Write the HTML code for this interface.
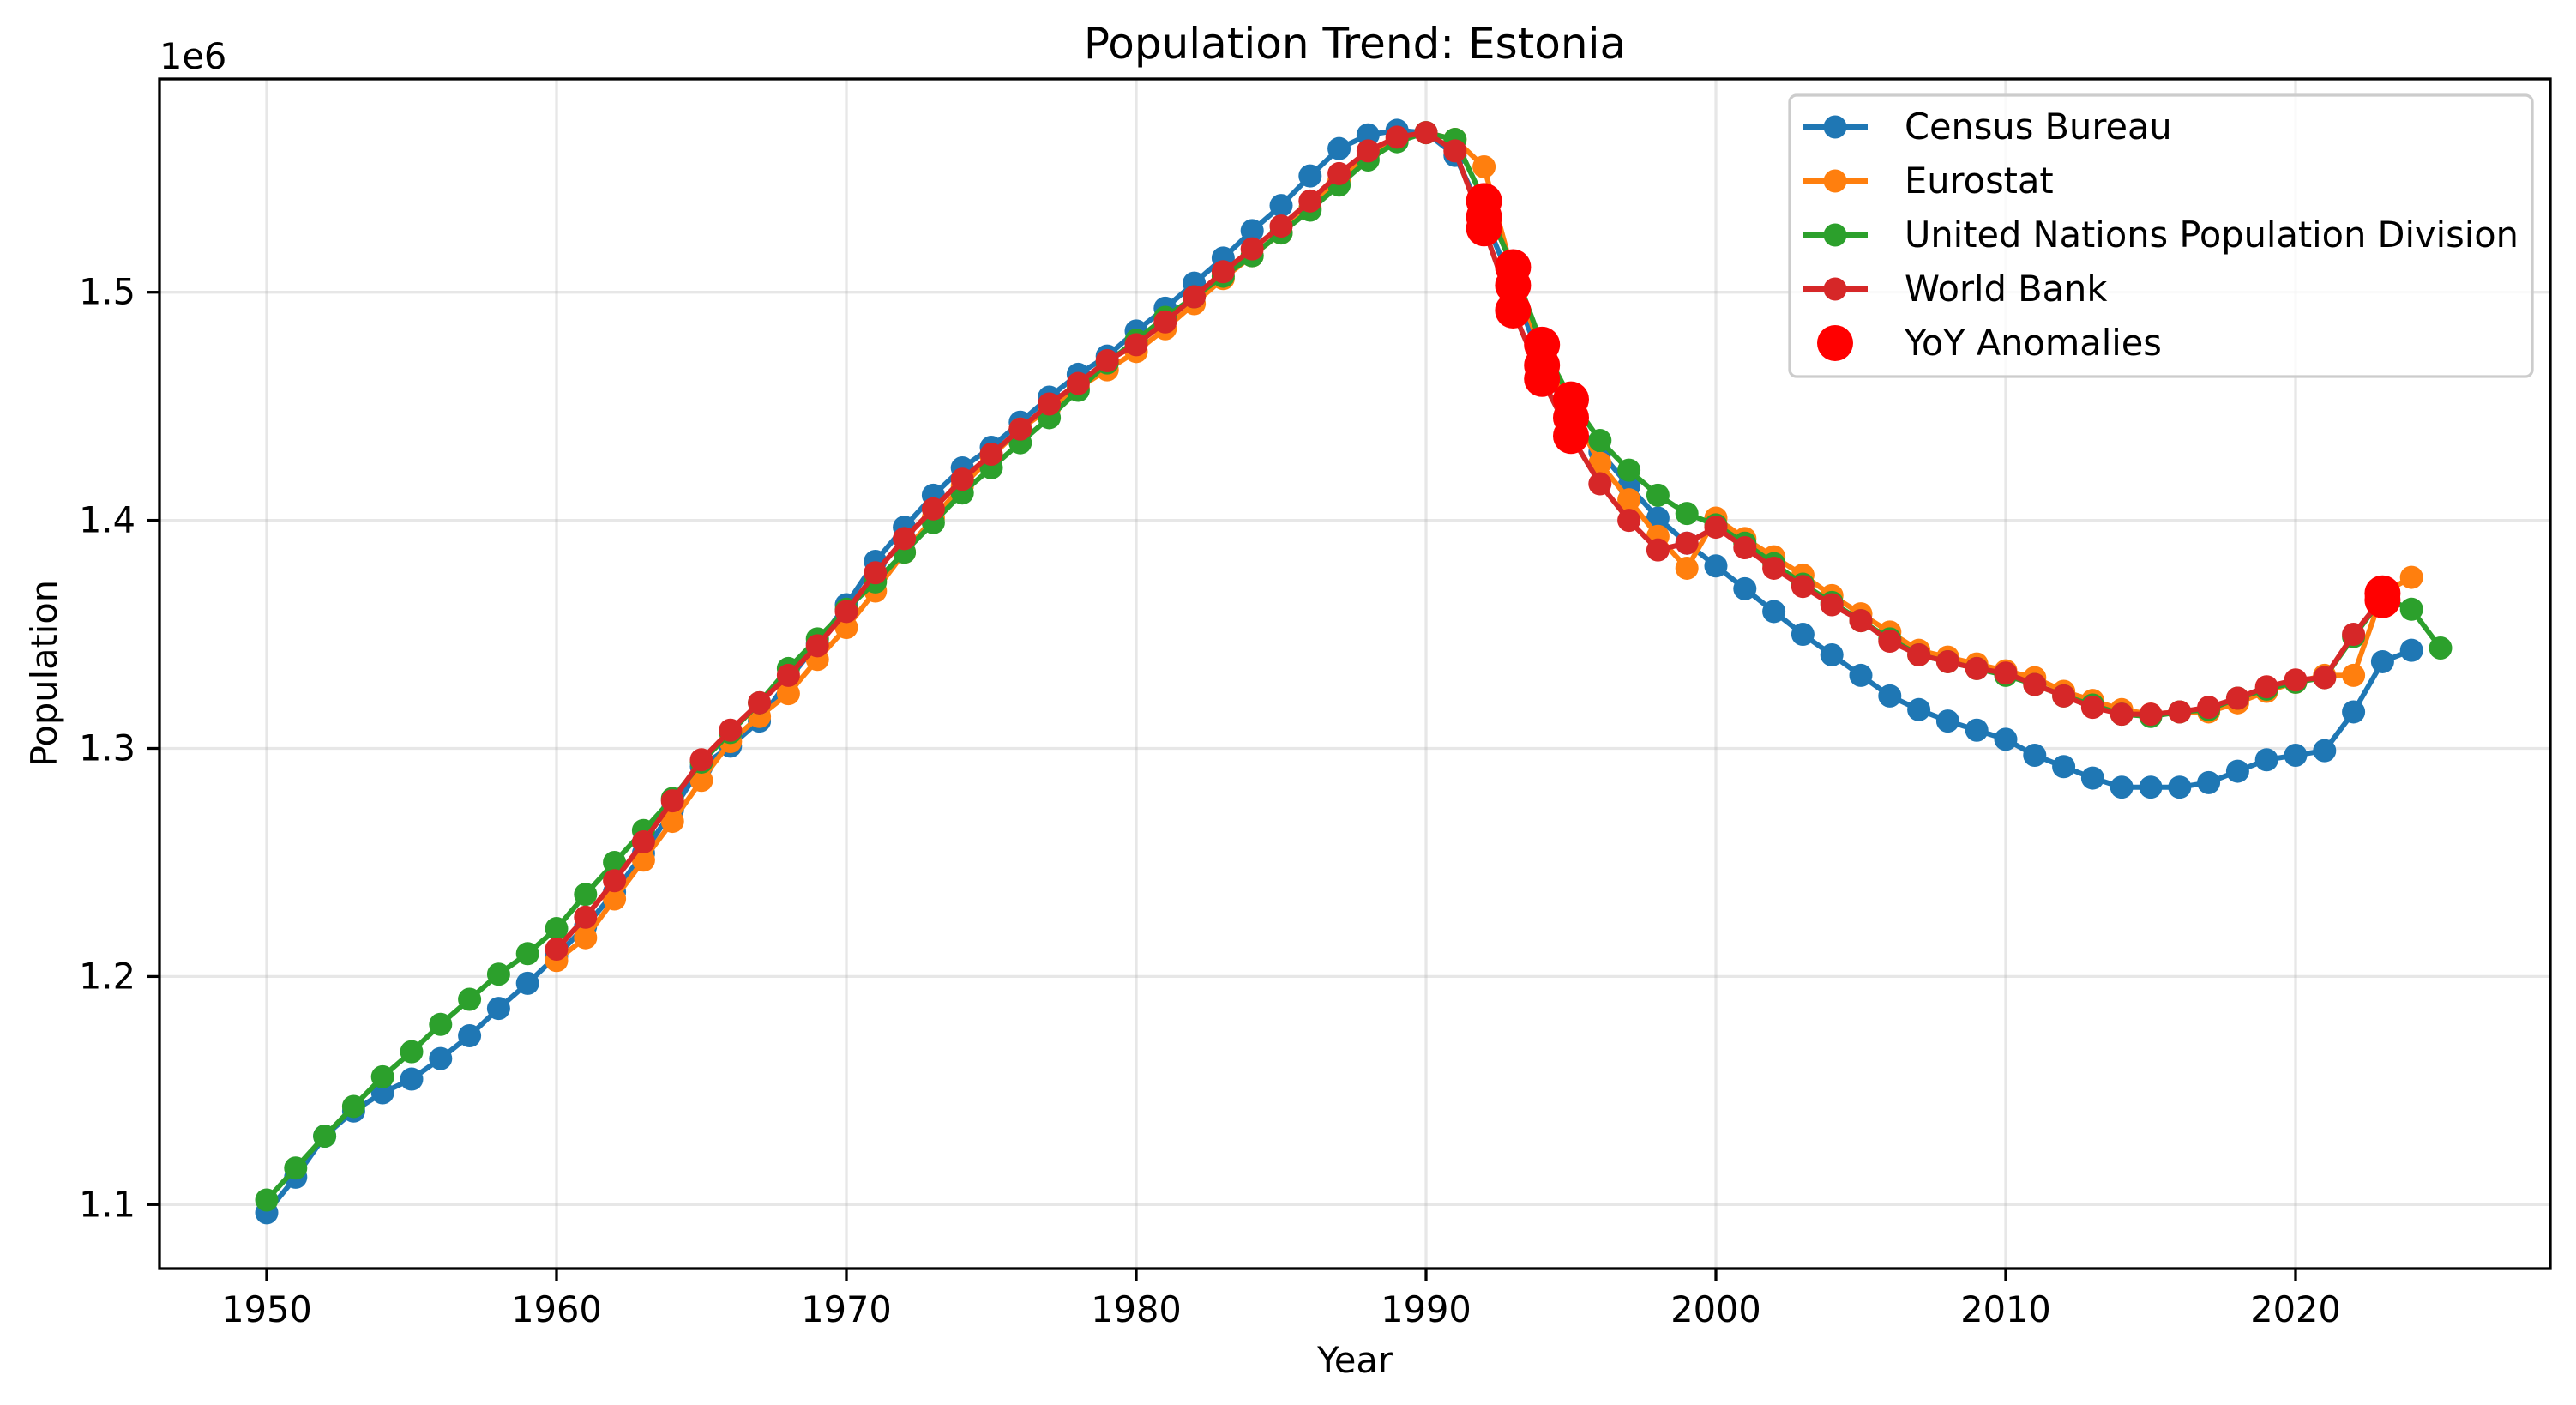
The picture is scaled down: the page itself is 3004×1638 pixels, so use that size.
<!DOCTYPE html>
<html><head><meta charset="utf-8"><style>
html,body{margin:0;padding:0;background:#fff;}
svg{display:block;font-family:"DejaVu Sans","Liberation Sans",sans-serif;}
</style></head><body>
<svg id="chart" width="3004" height="1638" viewBox="0 0 3004 1638" xmlns="http://www.w3.org/2000/svg">
<rect width="3004" height="1638" fill="#fff"/>
<g id="grid"></g>
<g id="series"></g>
<g id="axes"></g>
<text x="1580" y="68" font-size="50" text-anchor="middle">Population Trend: Estonia</text>
<text x="186" y="80" font-size="41.5">1e6</text>
<text x="1580" y="1600" font-size="41.5" text-anchor="middle">Year</text>
<text x="0" y="0" font-size="41.5" text-anchor="middle" transform="translate(66,785) rotate(-90)">Population</text>
<g id="legend"></g>
</svg>
<script>
const censusYears = [1950,1951,1952,1953,1954,1955,1956,1957,1958,1959,1960,1961,1962,1963,1964,1965,1966,1967,1968,1969,1970,1971,1972,1973,1974,1975,1976,1977,1978,1979,1980,1981,1982,1983,1984,1985,1986,1987,1988,1989,1990,1991,1992,1993,1994,1995,1996,1997,1998,1999,2000,2001,2002,2003,2004,2005,2006,2007,2008,2009,2010,2011,2012,2013,2014,2015,2016,2017,2018,2019,2020,2021,2022,2023,2024];
const censusValues = [1.0964,1.112,1.130,1.141,1.149,1.155,1.164,1.174,1.186,1.197,1.209,1.222,1.237,1.254,1.273,1.292,1.301,1.312,1.330,1.346,1.363,1.382,1.397,1.411,1.423,1.432,1.443,1.454,1.464,1.472,1.483,1.493,1.504,1.515,1.527,1.538,1.551,1.563,1.569,1.571,1.570,1.560,1.533,1.503,1.468,1.445,1.430,1.415,1.401,1.390,1.380,1.370,1.360,1.350,1.341,1.332,1.323,1.317,1.312,1.308,1.304,1.297,1.292,1.287,1.283,1.283,1.283,1.285,1.290,1.295,1.297,1.299,1.316,1.338,1.343];
const eurostatYears = [1960,1961,1962,1963,1964,1965,1966,1967,1968,1969,1970,1971,1972,1973,1974,1975,1976,1977,1978,1979,1980,1981,1982,1983,1984,1985,1986,1987,1988,1989,1990,1991,1992,1993,1994,1995,1996,1997,1998,1999,2000,2001,2002,2003,2004,2005,2006,2007,2008,2009,2010,2011,2012,2013,2014,2015,2016,2017,2018,2019,2020,2021,2022,2023,2024];
const eurostatValues = [1.207,1.217,1.234,1.251,1.268,1.286,1.303,1.314,1.324,1.339,1.353,1.369,1.386,1.401,1.415,1.428,1.440,1.449,1.458,1.466,1.474,1.484,1.495,1.506,1.516,1.526,1.537,1.549,1.560,1.567,1.570,1.567,1.555,1.508,1.474,1.448,1.425,1.409,1.393,1.379,1.401,1.392,1.384,1.376,1.367,1.359,1.351,1.343,1.340,1.337,1.334,1.331,1.325,1.321,1.317,1.315,1.316,1.316,1.320,1.325,1.329,1.332,1.332,1.368,1.375];
const unYears = [1950,1951,1952,1953,1954,1955,1956,1957,1958,1959,1960,1961,1962,1963,1964,1965,1966,1967,1968,1969,1970,1971,1972,1973,1974,1975,1976,1977,1978,1979,1980,1981,1982,1983,1984,1985,1986,1987,1988,1989,1990,1991,1992,1993,1994,1995,1996,1997,1998,1999,2000,2001,2002,2003,2004,2005,2006,2007,2008,2009,2010,2011,2012,2013,2014,2015,2016,2017,2018,2019,2020,2021,2022,2023,2024,2025];
const unValues = [1.102,1.116,1.130,1.143,1.156,1.167,1.179,1.190,1.201,1.210,1.221,1.236,1.250,1.264,1.278,1.294,1.307,1.320,1.335,1.348,1.361,1.373,1.386,1.399,1.412,1.423,1.434,1.445,1.457,1.469,1.479,1.489,1.498,1.507,1.516,1.526,1.536,1.547,1.558,1.566,1.570,1.567,1.540,1.511,1.477,1.453,1.435,1.422,1.411,1.403,1.398,1.390,1.381,1.372,1.364,1.356,1.348,1.341,1.338,1.335,1.332,1.328,1.323,1.319,1.315,1.314,1.316,1.317,1.322,1.326,1.329,1.331,1.349,1.366,1.361,1.344];
const wbYears = [1960,1961,1962,1963,1964,1965,1966,1967,1968,1969,1970,1971,1972,1973,1974,1975,1976,1977,1978,1979,1980,1981,1982,1983,1984,1985,1986,1987,1988,1989,1990,1991,1992,1993,1994,1995,1996,1997,1998,1999,2000,2001,2002,2003,2004,2005,2006,2007,2008,2009,2010,2011,2012,2013,2014,2015,2016,2017,2018,2019,2020,2021,2022,2023];
const wbValues = [1.212,1.226,1.242,1.259,1.277,1.295,1.308,1.320,1.332,1.345,1.360,1.377,1.392,1.405,1.418,1.429,1.440,1.451,1.460,1.470,1.477,1.487,1.498,1.509,1.519,1.529,1.540,1.552,1.562,1.568,1.570,1.562,1.528,1.492,1.462,1.437,1.416,1.400,1.387,1.390,1.397,1.388,1.379,1.371,1.363,1.356,1.347,1.341,1.338,1.335,1.333,1.328,1.323,1.318,1.315,1.315,1.316,1.318,1.322,1.327,1.330,1.331,1.350,1.366];
const anomalyYears = [1992,1992,1992,1993,1993,1993,1994,1994,1994,1995,1995,1995,2023,2023];
const anomalyValues = [1.540,1.533,1.528,1.511,1.503,1.492,1.477,1.468,1.462,1.453,1.445,1.437,1.368,1.365];
const xTicks = [1950,1960,1970,1980,1990,2000,2010,2020];
const yTicks = [1.1,1.2,1.3,1.4,1.5];
const yTickLabels = ["1.1","1.2","1.3","1.4","1.5"];

const L=186,R=2974,T=92,B=1479;
function xs(y){return 311+(y-1950)*33.8;}
function ys(v){return 1404.3-(v-1.1)/0.1*265.9;}
const NS="http://www.w3.org/2000/svg";
function mk(tag,attrs,parent){const e=document.createElementNS(NS,tag);for(const k in attrs)e.setAttribute(k,attrs[k]);parent.appendChild(e);return e;}
const grid=document.getElementById('grid'),axes=document.getElementById('axes'),ser=document.getElementById('series'),leg=document.getElementById('legend');

xTicks.forEach(t=>{
  const g=mk('line',{x1:xs(t),x2:xs(t),y1:T,y2:B,stroke:'#b0b0b0','stroke-opacity':0.3,'stroke-width':3.3},grid);
  
  
  const tk=mk('line',{x1:xs(t),x2:xs(t),y1:B,y2:B+15,stroke:'#000','stroke-width':3.3},axes);
  
  
  const tx=mk('text',{x:xs(t),y:1541,'font-size':41.5,'text-anchor':'middle'},axes);
  tx.textContent=t;
  
  
});
yTicks.forEach((t,i)=>{
  const g=mk('line',{x1:L,x2:R,y1:ys(t),y2:ys(t),stroke:'#b0b0b0','stroke-opacity':0.3,'stroke-width':3.3},grid);
  
  
  const tk=mk('line',{x1:L-15,x2:L,y1:ys(t),y2:ys(t),stroke:'#000','stroke-width':3.3},axes);
  
  
  const tx=mk('text',{x:L-28,y:ys(t)+14,'font-size':41.5,'text-anchor':'end'},axes);
  tx.textContent=yTickLabels[i];
  
  
});
const frame=mk('rect',{x:L,y:T,width:R-L,height:B-T,fill:'none',stroke:'#000','stroke-width':3.3},axes);



const seriesList=[
  {name:'census-bureau',label:'Census Bureau',color:'#1f77b4',yrs:censusYears,vals:censusValues},
  {name:'eurostat',label:'Eurostat',color:'#ff7f0e',yrs:eurostatYears,vals:eurostatValues},
  {name:'un-population-division',label:'United Nations Population Division',color:'#2ca02c',yrs:unYears,vals:unValues},
  {name:'world-bank',label:'World Bank',color:'#d62728',yrs:wbYears,vals:wbValues}
];
seriesList.forEach(s=>{
  const g=mk('g',{},ser);
  
  
  const pts=s.yrs.map((y,i)=>xs(y)+','+ys(s.vals[i])).join(' ');
  const pl=mk('polyline',{points:pts,fill:'none',stroke:s.color,'stroke-width':6,'stroke-linejoin':'round'},g);
  
  
  s.yrs.forEach((y,i)=>{
    const c=mk('circle',{cx:xs(y),cy:ys(s.vals[i]),r:13.5,fill:s.color},g);
    
    
  });
});
anomalyYears.forEach((y,i)=>{
  const c=mk('circle',{cx:xs(y),cy:ys(anomalyValues[i]),r:21,fill:'#ff0000'},ser);
  
  
});

const lb=mk('rect',{x:2087,y:111,width:866,height:328,rx:8,fill:'#fff','fill-opacity':0.8,stroke:'#cccccc','stroke-width':3.3},leg);


const entries=seriesList.map(s=>({label:s.label,color:s.color,line:true,name:s.name}));
entries.push({label:'YoY Anomalies',color:'#ff0000',line:false,name:'yoy-anomalies'});
entries.forEach((e,i)=>{
  const cy=148+i*63;
  const g=mk('g',{},leg);
  
  
  if(e.line){
    mk('line',{x1:2102,x2:2178,y1:cy,y2:cy,stroke:e.color,'stroke-width':6},g);
    mk('circle',{cx:2140,cy:cy,r:13.5,fill:e.color},g);
  } else {
    mk('circle',{cx:2140,cy:cy,r:21,fill:e.color},g);
  }
  const t=mk('text',{x:2221,y:cy+14,'font-size':41.5},g);
  t.textContent=e.label;
});
</script>
</body></html>
